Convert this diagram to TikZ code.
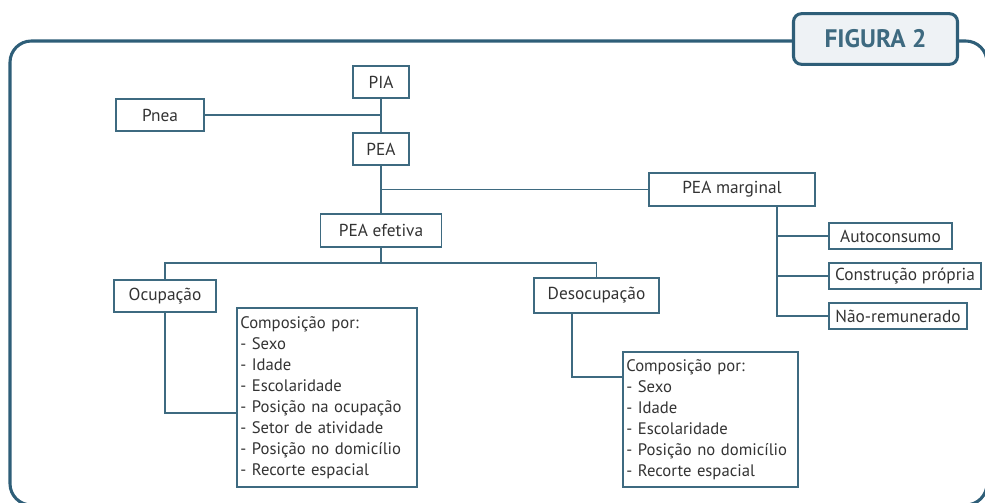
\documentclass[tikz,border=0pt]{standalone}
\usepackage{fontspec}
\setmainfont{PT Sans}
\usepackage{tikz}
\usetikzlibrary{calc}

\definecolor{framec}{HTML}{2E5E78}
\definecolor{linec}{HTML}{3E6A80}
\definecolor{textc}{HTML}{333333}
\definecolor{tagfill}{HTML}{EEF2F5}

\tikzset{
    box/.style 2 args={draw=linec, line width=1.1pt, text=textc,
        minimum width=#1*0.75pt, minimum height=#2*0.75pt,
        inner sep=0pt, font=\fontsize{13}{15}\selectfont},
    listbox/.style 2 args={draw=linec, line width=1.1pt, text=textc,
        text width=#1*0.75pt-5pt, minimum height=#2*0.75pt,
        inner xsep=2.5pt, inner ysep=0pt, align=left,
        font=\fontsize{12.5}{15.75}\selectfont},
    conn/.style={draw=linec, line width=1pt},
}

\begin{document}
\begin{tikzpicture}[x=0.75pt, y=-0.75pt]
    \useasboundingbox (0,0) rectangle (985,503);

    % frame and tag
    \draw[framec, line width=2.3pt, rounded corners=16pt] (10,41) rectangle (987,505);
    \node[draw=framec, fill=tagfill, line width=2.3pt, rounded corners=6pt,
          minimum width=123pt, minimum height=38pt, text=linec,
          font=\fontsize{19}{22}\selectfont\bfseries] (tag) at (875.5,39) {FIGURA 2};

    % top part
    \node[box={56}{32}] (pia) at (381,82) {PIA};
    \node[box={88}{32}] (pnea) at (160,115) {Pnea};
    \node[box={56}{32}] (pea) at (381,149) {PEA};
    \node[box={121}{33}] (efet) at (381,230.5) {PEA efetiva};
    \node[box={166}{33}] (marg) at (732,189.5) {PEA marginal};

    \draw[conn] (pia.south) -- (pea.north);
    \draw[conn] (pnea.east) -- (pnea.east -| pia.south);
    \draw[conn] (pea.south) -- (efet.north);
    \draw[conn] (pea.south |- marg.west) -- (marg.west);

    % PEA marginal
    \node[box={123}{26}] (auto) at (890.5,236) {Autoconsumo};
    \node[box={152}{26}] (constr) at (905,276) {Construção própria};
    \node[box={138}{26}] (naorem) at (898,316) {Não-remunerado};

    \coordinate (mtrunk) at (777,206);
    \draw[conn] (mtrunk) |- (naorem.west);
    \draw[conn] (mtrunk |- auto.west) -- (auto.west);
    \draw[conn] (mtrunk |- constr.west) -- (constr.west);

    % PEA efetiva
    \node[box={102}{32}] (ocup) at (165,296) {Ocupação};
    \node[box={125}{35}] (desoc) at (596.5,295.5) {Desocupação};

    \coordinate (split) at (381,263);
    \draw[conn] (efet.south) -- (split);
    \draw[conn] (ocup.north) |- (split) -| (desoc.north);

    \node[listbox={180}{179}] (comp1) at (327,397.5) {Composição por:\\- Sexo\\- Idade\\- Escolaridade\\- Posição na ocupação\\- Setor de atividade\\- Posição no domicílio\\- Recorte espacial};
    \node[listbox={175}{135}] (comp2) at (710.5,419.5) {Composição por:\\- Sexo\\- Idade\\- Escolaridade\\- Posição no domicílio\\- Recorte espacial};

    \coordinate (ocjoin) at (165,413);
    \coordinate (dsjoin) at (572,377);
    \draw[conn] (ocup.south) -- (ocjoin) -- (ocjoin -| comp1.west);
    \draw[conn] (dsjoin |- desoc.south) -- (dsjoin) -- (dsjoin -| comp2.west);

\end{tikzpicture}
\end{document}
